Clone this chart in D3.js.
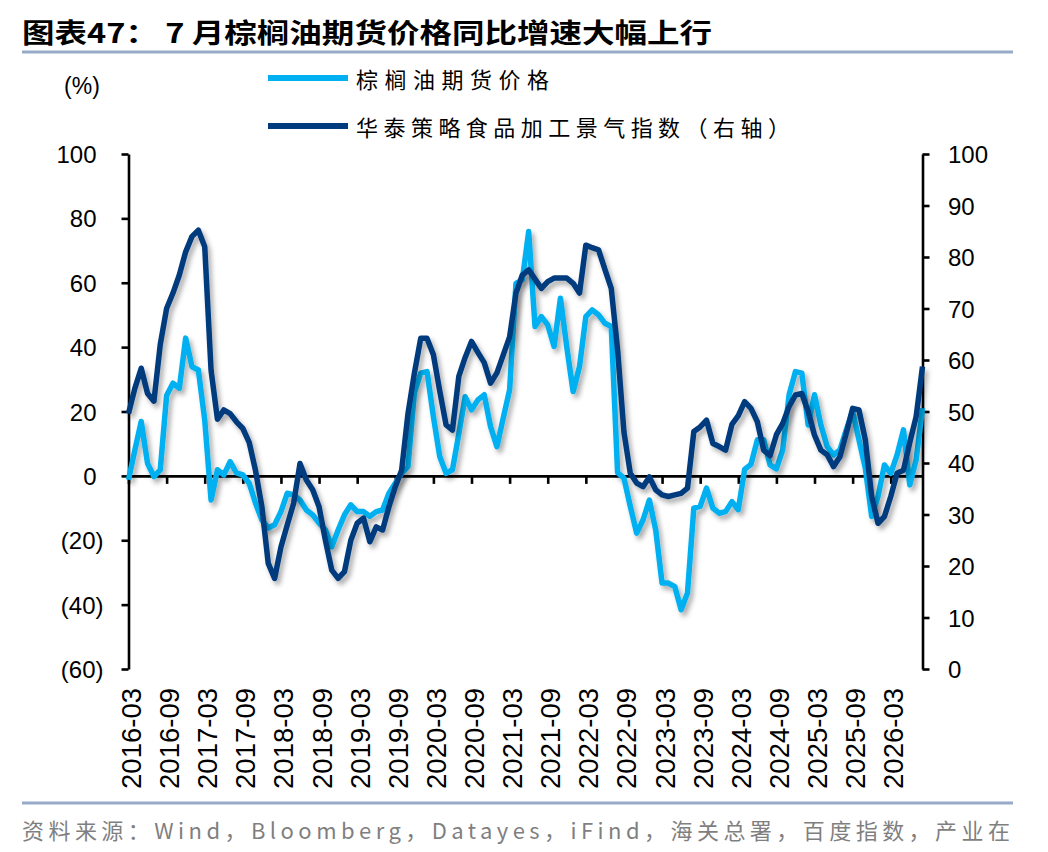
<!DOCTYPE html>
<html>
<head>
<meta charset="utf-8">
<script src="https://cdn.jsdelivr.net/npm/d3@7"></script>
<style>
  html, body { margin: 0; padding: 0; background: #ffffff; }
  svg { display: block; }
</style>
</head>
<body>
<svg id="chart" width="1048" height="852"></svg>
<script>
// ---------------- data ----------------
const startMonth = "2016-03";
const monthCount = 126; // 2016-03 .. 2026-08

// 棕榈油期货价格 同比 (%), left axis
const palmOil = [
  -1.2, 8, 16.9, 3.9, -0.2, 1.9, 25, 28.8, 27.2, 42.8,
  33.9, 32.9, 17.4, -7.5, 1.9, 0.3, 4.4, 0.9, 0.3, -2.3,
  -8.5, -13.7, -16.2, -15.2, -11.1, -5.4, -5.9, -7.5, -10.6, -12.1,
  -14.7, -16.8, -22, -16.8, -12.1, -9, -11.1, -11.1, -12.6, -11.1,
  -10.6, -5.4, -2.3, 0.8, 2.9, 25.7, 31.9, 32.4, 18.4, 6,
  0.8, 1.9, 13, 24.6, 20.5, 23.6, 25.2, 15.3, 9.1, 18,
  26.7, 59.8, 60.9, 75.9, 46.4, 49.5, 46.9, 40.2, 55.2, 40,
  26.2, 33.9, 49.5, 51.6, 50, 47.4, 46.4, 1, -0.7, -9.5,
  -17.8, -13.7, -7.5, -16.8, -33.3, -33.3, -34.4, -41.6, -36.4, -10,
  -9.5, -3.8, -10, -11.6, -11.1, -8, -10.5, 2, 3.6, 11.2,
  11.2, 3.4, 2.2, 8.1, 25.2, 32.4, 31.9, 15.8, 25.2, 15.8,
  9.1, 6.5, 8.1, 14.3, 20, 11.2, 2.4, -12.6, -6.4, 3.4,
  0.8, 6.5, 14.3, -2.8, 5, 21
];

// 华泰策略食品加工景气指数, right axis
const foodIndex = [
  49.6, 54.5, 58.4, 53.5, 52, 63, 70, 73, 76.5, 81,
  84, 85.2, 82, 58, 48.5, 50.3, 49.6, 48, 46.7, 44,
  38.5, 31.5, 20.5, 17.6, 23.7, 28, 32.2, 39.9, 36.7, 34.8,
  31.5, 25, 19.2, 17.6, 18.9, 25, 28.3, 29.3, 24.7, 27.6,
  27, 31.5, 35.4, 38.6, 49.6, 57.4, 64.2, 64.2, 61, 54,
  47.4, 46.4, 56.8, 60.5, 63.6, 61.5, 59.5, 55.5, 57.5, 61,
  64.5, 73, 76.5, 77.5, 75.7, 73.9, 75.2, 75.9, 75.9, 75.9,
  74.9, 73, 82.3, 81.8, 81.4, 77.6, 73.9, 62, 46, 38,
  36.1, 35.4, 37.3, 34.8, 33.8, 33.5, 33.8, 34.1, 35.1, 46.1,
  47, 48.3, 43.8, 43.2, 42.5, 47.5, 49.2, 51.9, 50.6, 48,
  42.5, 41.4, 45.5, 47.7, 51, 53.2, 53.5, 50, 45.4, 42.5,
  41.6, 39.3, 41.2, 45.8, 50.6, 50.3, 44.5, 33.5, 28.3, 29.6,
  33.5, 38, 38.6, 44, 49, 58.7
];

const leftTicks = [-60, -40, -20, 0, 20, 40, 60, 80, 100];
const rightTicks = [0, 10, 20, 30, 40, 50, 60, 70, 80, 90, 100];
const xTickLabels = ["2016-03","2016-09","2017-03","2017-09","2018-03","2018-09","2019-03","2019-09",
  "2020-03","2020-09","2021-03","2021-09","2022-03","2022-09","2023-03","2023-09","2024-03","2024-09",
  "2025-03","2025-09","2026-03"];

const titleText = "图表47：  7 月棕榈油期货价格同比增速大幅上行";
const legendNames = ["棕榈油期货价格", "华泰策略食品加工景气指数（右轴）"];
const unitText = "(%)";
const sourceText = "资料来源：Wind，Bloomberg，Datayes，iFind，海关总署，百度指数，产业在";

// category list (months)
const months = [];
{
  let [yy, mm] = startMonth.split("-").map(Number);
  for (let k = 0; k < monthCount; k++) {
    months.push(yy + "-" + String(mm).padStart(2, "0"));
    mm++; if (mm > 12) { mm = 1; yy++; }
  }
}

// ---------------- styles ----------------
const LIGHT = "#00B0F0";
const DARK = "#003B7E";
const RULE = "#97AAC8";
const numFont = "'Liberation Sans', Arial, sans-serif";
const cjkFont = "'Noto Sans CJK SC', 'Liberation Sans', sans-serif";

const svg = d3.select("#chart");

const plot = { left: 128.5, right: 922.5, top: 154, bottom: 669 };

const x = d3.scalePoint().domain(months).range([plot.left, plot.right]);
const yL = d3.scaleLinear().domain([-60, 100]).range([plot.bottom, plot.top]);
const yR = d3.scaleLinear().domain([0, 100]).range([plot.bottom, plot.top]);

// shadow filter
const defs = svg.append("defs");
const f = defs.append("filter").attr("id", "shadow")
  .attr("x", "-10%").attr("y", "-10%").attr("width", "130%").attr("height", "130%");
f.append("feGaussianBlur").attr("in", "SourceAlpha").attr("stdDeviation", 2.6).attr("result", "blur");
f.append("feOffset").attr("in", "blur").attr("dx", 3).attr("dy", 4).attr("result", "off");
f.append("feFlood").attr("flood-color", "#000").attr("flood-opacity", 0.33).attr("result", "col");
f.append("feComposite").attr("in", "col").attr("in2", "off").attr("operator", "in").attr("result", "sh");
const fm = f.append("feMerge");
fm.append("feMergeNode").attr("in", "sh");
fm.append("feMergeNode").attr("in", "SourceGraphic");

// ---------------- title & rules ----------------
svg.append("text")
  .attr("x", 22).attr("y", 31)
  .attr("dominant-baseline", "central")
  .attr("font-family", cjkFont)
  .attr("font-weight", 700)
  .attr("font-size", 27)
  .attr("fill", "#000")
  .attr("textLength", 690)
  .attr("lengthAdjust", "spacingAndGlyphs")
  .text(titleText);

svg.append("line").attr("x1", 22).attr("x2", 1013).attr("y1", 52).attr("y2", 52)
  .attr("stroke", RULE).attr("stroke-width", 3);
svg.append("line").attr("x1", 22).attr("x2", 1013).attr("y1", 803).attr("y2", 803)
  .attr("stroke", RULE).attr("stroke-width", 3);

svg.append("text")
  .attr("x", 22).attr("y", 829)
  .attr("dominant-baseline", "central")
  .attr("font-family", cjkFont)
  .attr("font-size", 22)
  .attr("fill", "#7F7F7F")
  .attr("textLength", 988)
  .attr("lengthAdjust", "spacing")
  .text(sourceText);

// ---------------- legend ----------------
const legendY = [78, 126];
const legendColors = [LIGHT, DARK];
const legendLens = [193, 434];
legendNames.forEach((name, k) => {
  svg.append("line")
    .attr("x1", 268).attr("x2", 348)
    .attr("y1", legendY[k]).attr("y2", legendY[k])
    .attr("stroke", legendColors[k]).attr("stroke-width", 6);
  svg.append("text")
    .attr("x", 356).attr("y", legendY[k])
    .attr("dominant-baseline", "central")
    .attr("font-family", cjkFont)
    .attr("font-size", 22)
    .attr("fill", "#000")
    .attr("textLength", legendLens[k])
    .attr("lengthAdjust", "spacing")
    .text(name);
});

svg.append("text")
  .attr("x", 82).attr("y", 86)
  .attr("text-anchor", "middle")
  .attr("dominant-baseline", "central")
  .attr("font-family", numFont)
  .attr("font-size", 23)
  .attr("fill", "#000")
  .text(unitText);

// ---------------- axes ----------------
const axisStroke = 2.6;

const gL = svg.append("g").attr("transform", `translate(${plot.left},0)`)
  .call(d3.axisLeft(yL).tickValues(leftTicks).tickSize(7).tickSizeOuter(0)
    .tickFormat(d => d < 0 ? `(${-d})` : `${d}`));
gL.select(".domain").attr("stroke", "#000").attr("stroke-width", axisStroke);
gL.selectAll(".tick line").attr("stroke", "#000").attr("stroke-width", axisStroke);
gL.selectAll(".tick text")
  .attr("font-family", numFont).attr("font-size", 24).attr("fill", "#000")
  .attr("x", d => d < 0 ? -25 : -32)
  .attr("dy", null).attr("dominant-baseline", "central");

const gR = svg.append("g").attr("transform", `translate(${plot.right},0)`)
  .call(d3.axisRight(yR).tickValues(rightTicks).tickSize(7).tickSizeOuter(0));
gR.select(".domain").attr("stroke", "#000").attr("stroke-width", axisStroke);
gR.selectAll(".tick line").attr("stroke", "#000").attr("stroke-width", axisStroke);
gR.selectAll(".tick text")
  .attr("font-family", numFont).attr("font-size", 24).attr("fill", "#000")
  .attr("x", 25.5)
  .attr("dy", null).attr("dominant-baseline", "central");

// x axis along zero line
const tickMonths = xTickLabels;
const gX = svg.append("g").attr("transform", `translate(0,${yL(0)})`)
  .call(d3.axisBottom(x).tickValues(tickMonths).tickSize(8).tickSizeOuter(0).tickFormat(""));
gX.select(".domain").attr("stroke", "#000").attr("stroke-width", axisStroke);
gX.selectAll(".tick line").attr("stroke", "#000").attr("stroke-width", axisStroke);

// x labels at the bottom, rotated
svg.append("g").selectAll("text")
  .data(xTickLabels)
  .join("text")
  .attr("transform", d => `translate(${x(d) + 3},688) rotate(-90)`)
  .attr("text-anchor", "end")
  .attr("dominant-baseline", "central")
  .attr("font-family", numFont)
  .attr("font-size", 27.5)
  .attr("fill", "#000")
  .text(d => d);

// ---------------- lines ----------------
const lineL = d3.line().x((d, i) => x(months[i])).y(d => yL(d));
const lineR = d3.line().x((d, i) => x(months[i])).y(d => yR(d));

svg.append("path")
  .datum(palmOil)
  .attr("d", lineL)
  .attr("fill", "none")
  .attr("stroke", LIGHT)
  .attr("stroke-width", 5.5)
  .attr("stroke-linejoin", "round")
  .attr("filter", "url(#shadow)");

svg.append("path")
  .datum(foodIndex)
  .attr("d", lineR)
  .attr("fill", "none")
  .attr("stroke", DARK)
  .attr("stroke-width", 5.5)
  .attr("stroke-linejoin", "round")
  .attr("filter", "url(#shadow)");
</script>
</body>
</html>
